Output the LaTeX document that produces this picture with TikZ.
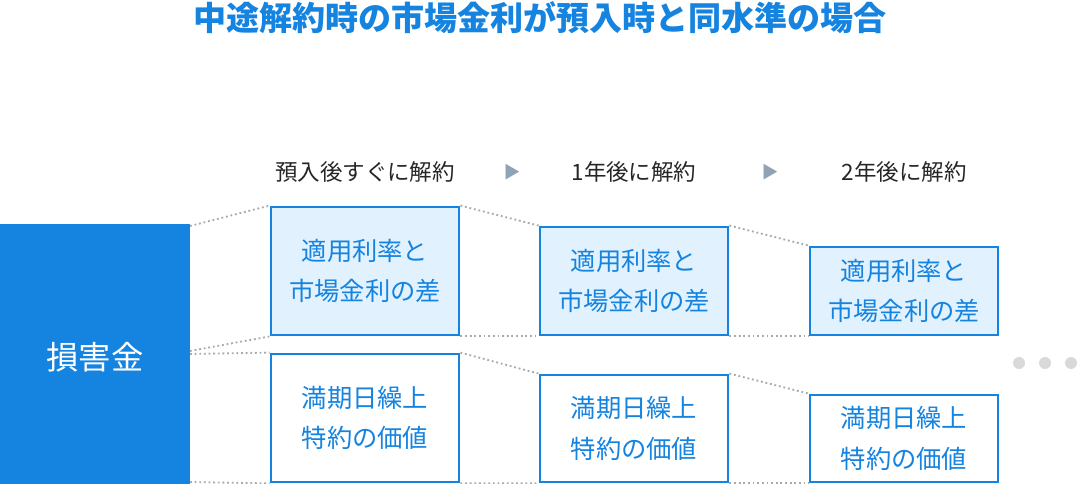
\documentclass[tikz,border=0pt]{standalone}
\usepackage{fontspec}
\setmainfont{Noto Sans CJK JP}
\definecolor{mainblue}{HTML}{1583E0}
\definecolor{paleblue}{HTML}{E1F2FE}
\definecolor{dotgray}{HTML}{A3AAB2}
\definecolor{arrowgray}{HTML}{8FA3B5}
\tikzstyle{cell}=[draw=mainblue,line width=2pt,text=mainblue,align=center,
minimum width=188*0.025cm,inner sep=0pt,font=\fontsize{18}{29}\selectfont]
\tikzstyle{link}=[dotgray,line width=1.3pt,dotted]
\tikzstyle{step label}=[font=\fontsize{16}{18}\selectfont,text=black!85]

\begin{document}
\begin{tikzpicture}[x=0.025cm,y=-0.025cm]
	\useasboundingbox (0,0) rectangle (1080,484);
	
	\node (title) at (540,18) [text=mainblue,font=\fontsize{23.5}{25}\selectfont\bfseries] {中途解約時の市場金利が預入時と同水準の場合};
	
	\node (s0) at (365,172) [step label] {預入後すぐに解約};
	\node (t1) at (512,172) [text=arrowgray,font=\large] {▶};
	\node (s1) at (634,172) [step label] {1年後に解約};
	\node (t2) at (770,172) [text=arrowgray,font=\large] {▶};
	\node (s2) at (904,172) [step label] {2年後に解約};
	
	\fill[mainblue] (0,224) rectangle (190,484);
	\node (loss) at (95,357) [text=white,font=\fontsize{23}{25}\selectfont] {損害金};
	\coordinate (l1) at (190,226);
	\coordinate (l2) at (190,351);
	\coordinate (l3) at (190,354);
	\coordinate (l4) at (190,482);
	
	\node (a1) at (365,271) [cell,fill=paleblue,minimum height=128*0.025cm] {適用利率と\\市場金利の差};
	\node (a2) at (365,418) [cell,fill=white,minimum height=128*0.025cm] {満期日繰上\\特約の価値};
	\node (b1) at (634,281) [cell,fill=paleblue,minimum height=108*0.025cm] {適用利率と\\市場金利の差};
	\node (b2) at (634,428.5) [cell,fill=white,minimum height=107*0.025cm] {満期日繰上\\特約の価値};
	\node (c1) at (904,291) [cell,fill=paleblue,minimum height=88*0.025cm] {適用利率と\\市場金利の差};
	\node (c2) at (904,438.5) [cell,fill=white,minimum height=87*0.025cm] {満期日繰上\\特約の価値};
	
	\draw [link] (l1) to (a1.north west);
	\draw [link] (l2) to (a1.south west);
	\draw [link] (l3) to (a2.north west);
	\draw [link] (l4) to (a2.south west);
	\draw [link] (a1.north east) to (b1.north west);
	\draw [link] (a1.south east) to (b1.south west);
	\draw [link] (a2.north east) to (b2.north west);
	\draw [link] (a2.south east) to (b2.south west);
	\draw [link] (b1.north east) to (c1.north west);
	\draw [link] (b1.south east) to (c1.south west);
	\draw [link] (b2.north east) to (c2.north west);
	\draw [link] (b2.south east) to (c2.south west);
	
	\foreach \x in {1019,1045,1071}
	\fill [black!15] (\x,363) circle (6);
	
\end{tikzpicture}
\end{document}
